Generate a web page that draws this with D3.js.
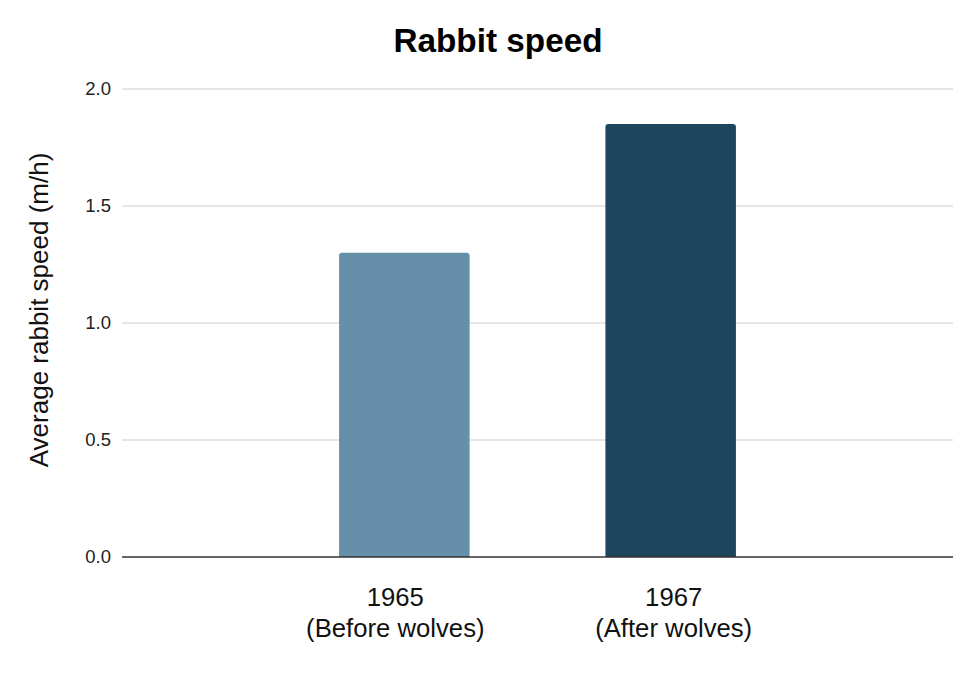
<!DOCTYPE html>
<html>
<head>
<meta charset="utf-8">
<script src="https://cdn.jsdelivr.net/npm/d3@7"></script>
<style>
  body { margin: 0; background: #fff; }
  svg { font-family: "Liberation Sans", Arial, sans-serif; }
</style>
</head>
<body>
<svg id="barChart" width="980" height="673"></svg>
<script>
const years = ["1965", "1967"];
const periods = ["(Before wolves)", "(After wolves)"];
const speeds = [1.3, 1.85];
const barColors = ["#6690a9", "#1e455e"];
const yTicks = [0, 0.5, 1.0, 1.5, 2.0];

const svg = d3.select("#barChart");
const margin = { top: 89, right: 27, bottom: 116, left: 122 };
const width = +svg.attr("width") - margin.left - margin.right;
const height = +svg.attr("height") - margin.top - margin.bottom;
const chart = svg.append("g").attr("transform", `translate(${margin.left},${margin.top})`);

const x = d3.scaleBand().domain(years).range([0, width]).paddingInner(0.51).paddingOuter(0.815);
const y = d3.scaleLinear().domain([0, 2]).range([height, 0]);

// gridlines
chart.append("g")
  .selectAll("line")
  .data(yTicks.filter(d => d > 0))
  .join("line")
  .attr("x1", 0)
  .attr("x2", width)
  .attr("y1", d => y(d))
  .attr("y2", d => y(d))
  .attr("stroke", "#cccccc")
  .attr("stroke-width", 1);

// y tick labels
chart.append("g")
  .call(d3.axisLeft(y).tickValues(yTicks).tickFormat(d3.format(".1f")).tickSize(0).tickPadding(11))
  .call(g => g.select(".domain").remove())
  .selectAll("text")
  .style("font-size", "18.5px")
  .attr("fill", "#222");

const data = years.map((yr, i) => ({ year: yr, period: periods[i], speed: speeds[i], color: barColors[i] }));

chart.append("g")
  .selectAll("path")
  .data(data)
  .join("path")
  .attr("fill", d => d.color)
  .attr("d", d => {
    const x0 = x(d.year), w = x.bandwidth(), y0 = y(d.speed), h = y(0) - y0, r = 3;
    return `M${x0},${y0 + h}V${y0 + r}Q${x0},${y0} ${x0 + r},${y0}H${x0 + w - r}Q${x0 + w},${y0} ${x0 + w},${y0 + r}V${y0 + h}Z`;
  });

// baseline
chart.append("line")
  .attr("x1", 0)
  .attr("x2", width)
  .attr("y1", y(0))
  .attr("y2", y(0))
  .attr("stroke", "#333")
  .attr("stroke-width", 1.5);

// x labels (two lines), google-style slight nudge toward centre
const labelNudge = [-9, 3];
const xl = chart.append("g")
  .selectAll("text")
  .data(data)
  .join("text")
  .attr("text-anchor", "middle")
  .attr("x", (d, i) => x(d.year) + x.bandwidth() / 2 + labelNudge[i])
  .attr("y", height + 49)
  .style("font-size", "25.7px")
  .attr("fill", "#111");
xl.append("tspan").text(d => d.year);
xl.append("tspan")
  .attr("x", (d, i) => x(d.year) + x.bandwidth() / 2 + labelNudge[i])
  .attr("dy", 31)
  .text(d => d.period);

svg.append("text")
  .attr("transform", `translate(48, 310) rotate(-90)`)
  .attr("text-anchor", "middle")
  .style("font-size", "26px")
  .attr("fill", "#111")
  .text("Average rabbit speed (m/h)");

svg.append("text")
  .attr("x", 498)
  .attr("y", 52)
  .attr("text-anchor", "middle")
  .style("font-size", "33.3px")
  .style("font-weight", "bold")
  .text("Rabbit speed");
</script>
</body>
</html>
